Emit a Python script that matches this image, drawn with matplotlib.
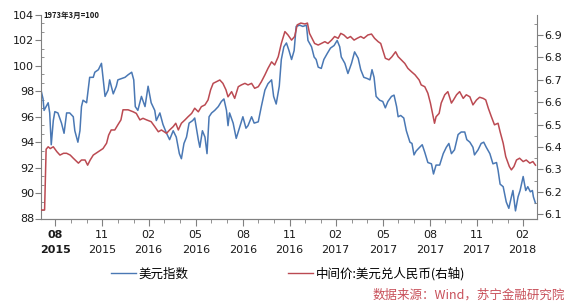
import matplotlib
matplotlib.use("Agg")
import matplotlib.pyplot as plt
import matplotlib.dates as mdates
from matplotlib.ticker import MultipleLocator, FormatStrFormatter
from matplotlib.lines import Line2D
import pandas as pd

plt.rcParams['font.family'] = ['DejaVu Sans', 'Noto Sans CJK SC']
cjk = ['Noto Sans CJK SC', 'DejaVu Sans']

# 美元指数 (left axis)
usd_dates = [
    "2015-08-03", "2015-08-07", "2015-08-09", "2015-08-13", "2015-08-17", "2015-08-20", "2015-08-23", "2015-08-27", "2015-08-30",
    "2015-09-05", "2015-09-12", "2015-09-17", "2015-09-22", "2015-09-28",
    "2015-10-05", "2015-10-08", "2015-10-14", "2015-10-18", "2015-10-21", "2015-10-24", "2015-10-31",
    "2015-11-06", "2015-11-13", "2015-11-16", "2015-11-23", "2015-11-29",
    "2015-12-02", "2015-12-06", "2015-12-12", "2015-12-15", "2015-12-22", "2015-12-28", "2015-12-31",
    "2016-01-07", "2016-01-14", "2016-01-20", "2016-01-27", "2016-01-31",
    "2016-02-03", "2016-02-08", "2016-02-15", "2016-02-22", "2016-02-28",
    "2016-03-05", "2016-03-12", "2016-03-15", "2016-03-22", "2016-03-28",
    "2016-04-04", "2016-04-10", "2016-04-17", "2016-04-23", "2016-04-29",
    "2016-05-03", "2016-05-08", "2016-05-13", "2016-05-18", "2016-05-25", "2016-05-29",
    "2016-06-05", "2016-06-08", "2016-06-13", "2016-06-18", "2016-06-22", "2016-06-26",
    "2016-07-01", "2016-07-07", "2016-07-14", "2016-07-20", "2016-07-25", "2016-07-30",
    "2016-08-02", "2016-08-05", "2016-08-12", "2016-08-18", "2016-08-25", "2016-08-31",
    "2016-09-06", "2016-09-10", "2016-09-17", "2016-09-22", "2016-09-30",
    "2016-10-06", "2016-10-13", "2016-10-19", "2016-10-26", "2016-10-30",
    "2016-11-04", "2016-11-10", "2016-11-14", "2016-11-19", "2016-11-24", "2016-11-29",
    "2016-12-04", "2016-12-09", "2016-12-13", "2016-12-20", "2016-12-26",
    "2017-01-02", "2017-01-05", "2017-01-12", "2017-01-17", "2017-01-21", "2017-01-25", "2017-01-31",
    "2017-02-05", "2017-02-12", "2017-02-18", "2017-02-25",
    "2017-03-03", "2017-03-08", "2017-03-11", "2017-03-18", "2017-03-24", "2017-03-31",
    "2017-04-06", "2017-04-13", "2017-04-18", "2017-04-24",
    "2017-05-01", "2017-05-06", "2017-05-10", "2017-05-14", "2017-05-18", "2017-05-25", "2017-05-31",
    "2017-06-05", "2017-06-10", "2017-06-17", "2017-06-22", "2017-06-27", "2017-06-30",
    "2017-07-05", "2017-07-11", "2017-07-16", "2017-07-23", "2017-07-27", "2017-07-31",
    "2017-08-04", "2017-08-11", "2017-08-16", "2017-08-21", "2017-08-27",
    "2017-09-03", "2017-09-07", "2017-09-12", "2017-09-19", "2017-09-26",
    "2017-10-02", "2017-10-07", "2017-10-12", "2017-10-18", "2017-10-25", "2017-10-31",
    "2017-11-07", "2017-11-11", "2017-11-17", "2017-11-23", "2017-11-26",
    "2017-12-03", "2017-12-09", "2017-12-14", "2017-12-19", "2017-12-26",
    "2018-01-01", "2018-01-08", "2018-01-11", "2018-01-15", "2018-01-21", "2018-01-27",
    "2018-02-01", "2018-02-06", "2018-02-09", "2018-02-14", "2018-02-19", "2018-02-23",
    "2018-03-01", "2018-03-06", "2018-03-10", "2018-03-15", "2018-03-19", "2018-03-21", "2018-03-25",
]
usd_index = [
    98.1, 97.4, 96.5, 96.8, 97.1, 96.3, 93.8, 95.7, 96.4,
    96.3, 95.5, 94.7, 96.3, 96.3,
    96.0, 94.9, 94.0, 94.9, 96.8, 97.3, 97.1,
    99.1, 99.1, 99.5, 99.7, 100.2,
    99.1, 97.6, 98.1, 98.9, 97.8, 98.4, 98.9,
    99.0, 99.1, 99.3, 99.5, 98.9,
    96.8, 96.5, 97.6, 96.8, 98.4,
    97.1, 96.5, 95.7, 96.3, 95.4,
    94.7, 94.2, 94.9, 94.4, 93.1,
    92.7, 93.9, 94.4, 95.5, 95.7, 95.9,
    94.2, 93.6, 94.9, 94.4, 93.1, 96.0,
    96.3, 96.5, 96.8, 97.2, 97.4, 96.5,
    95.3, 96.3, 95.5, 94.3, 95.2, 96.0,
    95.1, 95.3, 96.0, 95.5, 95.6,
    96.8, 98.1, 98.6, 98.9, 97.6,
    97.0, 98.4, 100.5, 101.5, 101.8, 101.2,
    100.5, 101.2, 103.1, 103.2, 103.1,
    103.2, 102.0, 101.5, 100.7, 100.5, 99.9, 99.8,
    100.5, 101.0, 101.4, 101.6,
    102.0, 101.5, 100.7, 100.2, 99.4, 100.2,
    101.1, 100.6, 99.7, 99.1,
    99.0, 98.9, 99.7, 99.1, 97.6, 97.3, 97.2,
    96.7, 97.2, 97.6, 97.7, 96.8, 96.0,
    96.1, 95.9, 94.9, 94.0, 93.9, 93.0,
    93.3, 93.6, 93.8, 93.2, 92.4,
    92.3, 91.5, 92.2, 92.2, 93.1,
    93.6, 93.9, 93.1, 93.4, 94.6, 94.8,
    94.8, 94.2, 94.0, 93.6, 93.0,
    93.4, 93.9, 94.0, 93.6, 93.1,
    92.3, 92.4, 91.8, 90.7, 90.5, 89.3,
    88.8, 89.7, 90.2, 88.6, 89.7, 90.2,
    91.3, 90.2, 90.5, 90.1, 90.2, 89.7, 89.2,
]

# 中间价:美元兑人民币 (right axis)
cny_dates = [
    "2015-08-03", "2015-08-10", "2015-08-13", "2015-08-17", "2015-08-21", "2015-08-27",
    "2015-09-03", "2015-09-09", "2015-09-16", "2015-09-22", "2015-09-29",
    "2015-10-05", "2015-10-12", "2015-10-15", "2015-10-21", "2015-10-28",
    "2015-11-02", "2015-11-07", "2015-11-13", "2015-11-23",
    "2015-12-02", "2015-12-09", "2015-12-13", "2015-12-18", "2015-12-25", "2015-12-31",
    "2016-01-06", "2016-01-10", "2016-01-20", "2016-01-30",
    "2016-02-05", "2016-02-12", "2016-02-18", "2016-02-25",
    "2016-03-05", "2016-03-12", "2016-03-19", "2016-03-25",
    "2016-04-04", "2016-04-10", "2016-04-17", "2016-04-22", "2016-04-27",
    "2016-05-03", "2016-05-10", "2016-05-16", "2016-05-23", "2016-05-29",
    "2016-06-05", "2016-06-11", "2016-06-18", "2016-06-24", "2016-06-29",
    "2016-07-04", "2016-07-10", "2016-07-17", "2016-07-23", "2016-07-29",
    "2016-08-02", "2016-08-09", "2016-08-15", "2016-08-22", "2016-08-28",
    "2016-09-04", "2016-09-10", "2016-09-17", "2016-09-23", "2016-09-30",
    "2016-10-06", "2016-10-13", "2016-10-19", "2016-10-26",
    "2016-11-01", "2016-11-08", "2016-11-14", "2016-11-21", "2016-11-27",
    "2016-12-04", "2016-12-10", "2016-12-15", "2016-12-22", "2016-12-30",
    "2017-01-04", "2017-01-08", "2017-01-13", "2017-01-18", "2017-01-25", "2017-01-31",
    "2017-02-07", "2017-02-13", "2017-02-20", "2017-02-26",
    "2017-03-05", "2017-03-10", "2017-03-16", "2017-03-23", "2017-03-29",
    "2017-04-05", "2017-04-11", "2017-04-18", "2017-04-24",
    "2017-05-02", "2017-05-09", "2017-05-15", "2017-05-22", "2017-05-27",
    "2017-06-01", "2017-06-05", "2017-06-12", "2017-06-18", "2017-06-25", "2017-06-30",
    "2017-07-06", "2017-07-13", "2017-07-19", "2017-07-26",
    "2017-08-02", "2017-08-10", "2017-08-14", "2017-08-21", "2017-08-27",
    "2017-09-01", "2017-09-05", "2017-09-09", "2017-09-12", "2017-09-18", "2017-09-22", "2017-09-29",
    "2017-10-05", "2017-10-12", "2017-10-16", "2017-10-22", "2017-10-28",
    "2017-11-04", "2017-11-10", "2017-11-17", "2017-11-23", "2017-11-30",
    "2017-12-06", "2017-12-13", "2017-12-18", "2017-12-23", "2017-12-29",
    "2018-01-04", "2018-01-11", "2018-01-15", "2018-01-21", "2018-01-26",
    "2018-02-02", "2018-02-06", "2018-02-11", "2018-02-16", "2018-02-22",
    "2018-03-01", "2018-03-07", "2018-03-14", "2018-03-20", "2018-03-25",
]
cny_mid = [
    6.119, 6.119, 6.390, 6.401, 6.393, 6.401,
    6.379, 6.364, 6.372, 6.372, 6.364,
    6.350, 6.335, 6.328, 6.342, 6.342,
    6.319, 6.342, 6.364, 6.379,
    6.393, 6.417, 6.453, 6.476, 6.476, 6.499,
    6.521, 6.566, 6.566, 6.557,
    6.550, 6.521, 6.528, 6.521,
    6.513, 6.491, 6.468, 6.476,
    6.461, 6.476, 6.491, 6.506, 6.476,
    6.506, 6.521, 6.535, 6.550, 6.573,
    6.557, 6.580, 6.588, 6.610, 6.655,
    6.684, 6.691, 6.699, 6.684, 6.655,
    6.624, 6.647, 6.617, 6.669, 6.677,
    6.684, 6.677, 6.684, 6.662, 6.669,
    6.691, 6.722, 6.751, 6.780,
    6.766, 6.803, 6.862, 6.915, 6.900,
    6.877, 6.893, 6.945, 6.953, 6.949,
    6.953, 6.907, 6.885, 6.862, 6.855, 6.862,
    6.870, 6.862, 6.877, 6.893,
    6.885, 6.907, 6.900, 6.885, 6.893,
    6.877, 6.885, 6.893, 6.885,
    6.900, 6.904, 6.885, 6.870, 6.862,
    6.825, 6.796, 6.789, 6.803, 6.825, 6.803,
    6.789, 6.773, 6.751, 6.736,
    6.722, 6.699, 6.677, 6.669, 6.640,
    6.596, 6.550, 6.506, 6.535, 6.550, 6.596, 6.633,
    6.647, 6.596, 6.610, 6.633, 6.647,
    6.617, 6.633, 6.624, 6.588, 6.610,
    6.622, 6.617, 6.610, 6.573, 6.535,
    6.499, 6.506, 6.468, 6.417, 6.357,
    6.313, 6.298, 6.313, 6.342, 6.350,
    6.335, 6.342, 6.328, 6.335, 6.319,
]

blue = '#4a78b4'
red = '#bb4a52'
gray = '#808080'
txt = '#1a1a1a'

fig = plt.figure(figsize=(5.88, 3.06), dpi=100)
ax = fig.add_axes([41/588, 1-218.5/306, (537-41)/588, (218.5-15)/306])
ax2 = ax.twinx()

ax.plot(pd.to_datetime(usd_dates), usd_index, color=blue, lw=1.1)
ax2.plot(pd.to_datetime(cny_dates), cny_mid, color=red, lw=1.1)

ax.set_xlim(pd.Timestamp("2015-08-03"), pd.Timestamp("2018-03-28"))
ax.set_ylim(88, 104)
ax2.set_ylim(6.081, 6.989)

for a in (ax, ax2):
    a.spines['top'].set_visible(False)
    for s in a.spines.values():
        s.set_color(gray)
        s.set_linewidth(0.8)
ax.spines['right'].set_visible(False)
ax2.spines['left'].set_visible(False)

# x axis: quarter-end labels, monthly minor ticks
ax.xaxis.set_major_locator(mdates.MonthLocator(bymonth=(2, 5, 8, 11), bymonthday=-1))
ax.xaxis.set_minor_locator(mdates.MonthLocator(bymonthday=-1))
ax.xaxis.set_major_formatter(mdates.DateFormatter('%m\n%Y'))
ax.tick_params(axis='x', which='major', direction='out', length=5, color=gray,
               labelsize=8, labelcolor=txt, pad=3)
ax.tick_params(axis='x', which='minor', direction='out', length=3, color=gray)

ax.yaxis.set_major_locator(MultipleLocator(2))
ax.yaxis.set_minor_locator(MultipleLocator(2/3))
ax.tick_params(axis='y', which='major', direction='out', length=4, color=gray,
               labelsize=8, labelcolor=txt, pad=1)
ax.tick_params(axis='y', which='minor', direction='in', length=2, color=gray)

ax2.yaxis.set_major_locator(MultipleLocator(0.1))
ax2.yaxis.set_minor_locator(MultipleLocator(0.05))
ax2.yaxis.set_major_formatter(FormatStrFormatter('%.1f'))
ax2.tick_params(axis='y', which='major', direction='out', length=4, color=gray,
                labelsize=8, labelcolor=txt, pad=1)
ax2.tick_params(axis='y', which='minor', direction='in', length=2, color=gray)

fig.canvas.draw()
xlabels = ax.get_xticklabels()
for lab in xlabels:
    lab.set_linespacing(1.7)
xlabels[0].set_fontweight('bold')

ax.text(0.004, 1.0, '1973年3月=100', transform=ax.transAxes, fontsize=5.5,
        fontweight='bold', family=cjk, va='center', ha='left', color=txt)

handles = [Line2D([0], [0], color=blue, lw=1.0), Line2D([0], [0], color=red, lw=1.0)]
fig.legend(handles, ['美元指数', '中间价:美元兑人民币(右轴)'], loc='center',
           bbox_to_anchor=(0.49, 0.105), ncol=2, frameon=False, handlelength=2.0,
           handletextpad=0.2, columnspacing=8, prop={'family': cjk, 'size': 9})

fig.text(565/588, 1-295/306, '数据来源：Wind，苏宁金融研究院', ha='right', va='center',
         color='#c8505a', style='italic', fontsize=9, family=cjk)

fig.savefig('out.png', dpi=100, facecolor='white')
